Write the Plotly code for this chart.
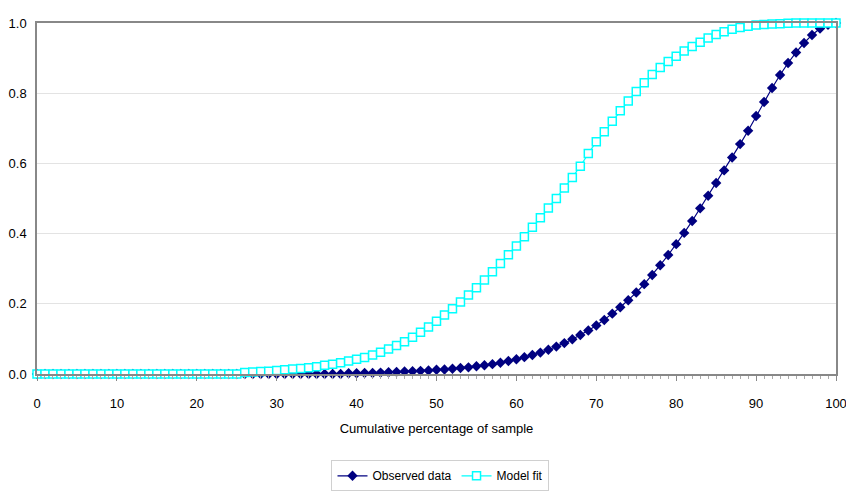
"""
Cumulative curves for two series, Excel-style line chart with markers.
"""

import plotly.graph_objects as go

x_vals = list(range(0, 101))

# dark series (filled diamonds)
series_a = [0.0] * 39 + [
    0.002, 0.002, 0.003, 0.003, 0.004, 0.005, 0.006, 0.007, 0.008, 0.009,   # 39-48
    0.010, 0.012, 0.013, 0.015, 0.017, 0.019, 0.022, 0.025, 0.028, 0.032,   # 49-58
    0.037, 0.042, 0.048, 0.054, 0.061, 0.069, 0.078, 0.088, 0.099, 0.111,   # 59-68
    0.124, 0.138, 0.154, 0.172, 0.190, 0.210, 0.232, 0.256, 0.282, 0.310,   # 69-78
    0.339, 0.370, 0.402, 0.436, 0.472, 0.508, 0.544, 0.580, 0.617, 0.655,   # 79-88
    0.693, 0.735, 0.775, 0.815, 0.852, 0.886, 0.916, 0.943, 0.966, 0.984,   # 89-98
    0.995, 1.000,                                                          # 99-100
]

# light series (open squares)
series_b = [0.0] * 26 + [
    0.004, 0.006, 0.007, 0.008, 0.010, 0.012, 0.014, 0.016, 0.018, 0.021,  # 26-35
    0.025, 0.028, 0.032, 0.037, 0.042, 0.047, 0.054, 0.062, 0.071, 0.081,  # 36-45
    0.092, 0.105, 0.119, 0.134, 0.150, 0.168, 0.186, 0.205, 0.225, 0.246,  # 46-55
    0.268, 0.291, 0.315, 0.340, 0.365, 0.391, 0.418, 0.445, 0.473, 0.500,  # 56-65
    0.530, 0.560, 0.592, 0.628, 0.662, 0.690, 0.720, 0.750, 0.778, 0.805,  # 66-75
    0.830, 0.853, 0.873, 0.890, 0.905, 0.920, 0.933, 0.945, 0.957, 0.967,  # 76-85
    0.975, 0.982, 0.987, 0.991, 0.994, 0.996, 0.997, 0.998, 0.999, 1.000,  # 86-95
    1.000, 1.000, 1.000, 1.000, 1.000,                                     # 96-100
]

x_ticks = [0, 10, 20, 30, 40, 50, 60, 70, 80, 90, 100]
y_ticks = [0.0, 0.2, 0.4, 0.6, 0.8, 1.0]
y_tick_labels = ['0.0', '0.2', '0.4', '0.6', '0.8', '1.0']

name_a = 'Observed data'
name_b = 'Model fit'
x_title = 'Cumulative percentage of sample'

FONT = 'Liberation Sans Narrow, Liberation Sans, Arial, sans-serif'

fig = go.Figure()

fig.add_trace(go.Scatter(
    x=x_vals,
    y=series_a,
    mode='lines+markers',
    name=name_a,
    line=dict(color='#000080', width=1.2),
    marker=dict(symbol='diamond', size=8, color='#000080'),
    cliponaxis=False,
))

fig.add_trace(go.Scatter(
    x=x_vals,
    y=series_b,
    mode='lines+markers',
    name=name_b,
    line=dict(color='#00FFFF', width=1.2),
    marker=dict(symbol='square', size=8, color='white',
                line=dict(width=1.5, color='#00FFFF')),
    cliponaxis=False,
))

fig.update_layout(
    width=846,
    height=503,
    margin=dict(l=37, r=10, t=23, b=129),
    paper_bgcolor='white',
    plot_bgcolor='white',
    font=dict(family=FONT, size=13, color='black'),
    showlegend=True,
    legend=dict(
        orientation='h',
        x=0.505, xanchor='center',
        y=-0.29, yanchor='middle',
        bordercolor='#d0d0d0', borderwidth=1,
        font=dict(size=12),
    ),
)

fig.update_xaxes(
    range=[0, 100],
    tickvals=x_ticks,
    automargin=False,
    ticklabeloverflow='allow',
    ticks='outside', ticklen=5, tickcolor='#888888',
    minor=dict(dtick=1, ticks='outside', ticklen=3, tickcolor='#aaaaaa'),
    showline=True, linecolor='#888888', linewidth=1.5, mirror=True,
    showgrid=False, zeroline=False,
    ticklabelstandoff=12,
    title=dict(text=x_title, standoff=14, font=dict(size=13)),
)

fig.update_yaxes(
    range=[0, 1],
    tickvals=y_ticks,
    ticktext=y_tick_labels,
    automargin=False,
    ticks='', showline=True, linecolor='#888888', linewidth=1.5, mirror=True,
    showgrid=True, gridcolor='#e3e3e3', gridwidth=1,
    zeroline=False,
    ticklabelstandoff=6,
)

# page body has a default 8px margin; drop it so the figure sits at 0,0
fig.write_html("out.html", config={'displayModeBar': False},
               post_script="document.body.style.margin = '0';")
